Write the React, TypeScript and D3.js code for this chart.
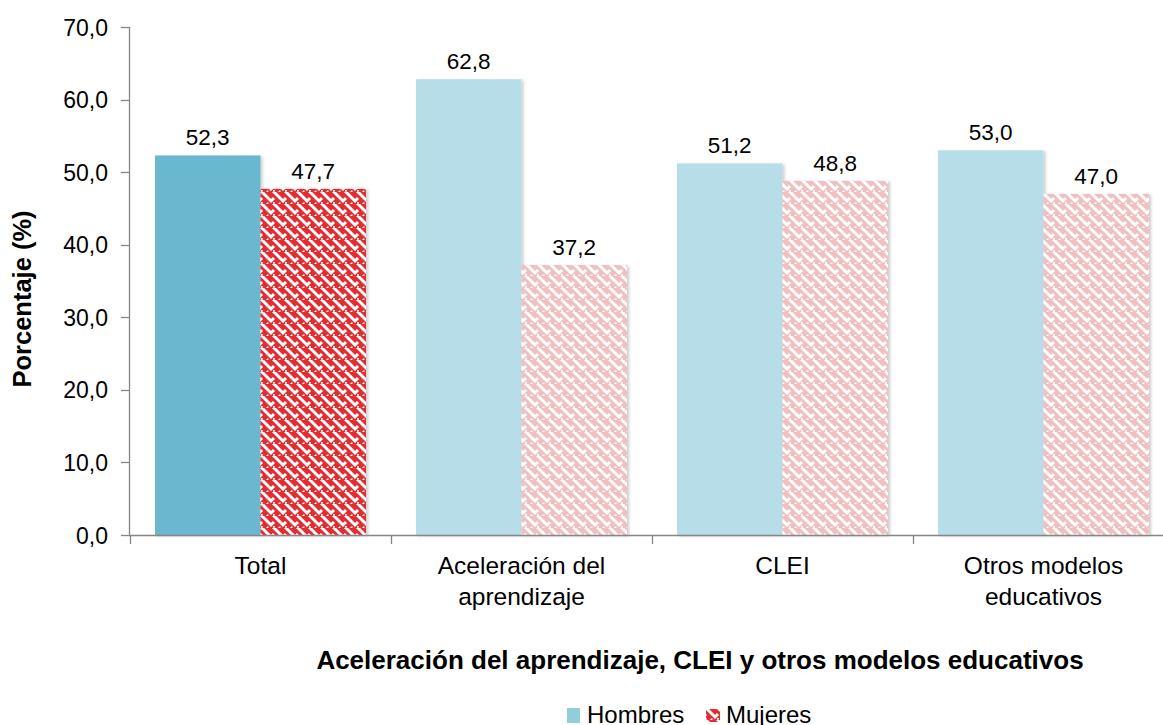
import React from "react";
import * as d3 from "d3";

const categories: string[][] = [
  ["Total"],
  ["Aceleración del", "aprendizaje"],
  ["CLEI"],
  ["Otros modelos", "educativos"],
];
const catKeys = ["Total", "Aceleración", "CLEI", "Otros"];
const series = ["Hombres", "Mujeres"];
const hombres = [52.3, 62.8, 51.2, 53.0];
const mujeres = [47.7, 37.2, 48.8, 47.0];
const yTicks = [0, 10, 20, 30, 40, 50, 60, 70];

const W = 1163;
const H = 725;
const FONT = "'Liberation Sans', Arial, sans-serif";
const fmt = (v: number) => v.toFixed(1).replace(".", ",");

export default function App() {
  const y = d3.scaleLinear().domain([0, 70]).range([535, 27]);
  const x = d3.scaleBand<string>().domain(catKeys).range([130, 1174]).paddingInner(0).paddingOuter(0);
  const x1 = d3.scaleBand<string>().domain(series).range([0, x.bandwidth()]).paddingInner(0).paddingOuter(0.237);
  const axisColor = "#868686";

  const hColor = (i: number) => (i === 0 ? "#6BB8CF" : "#B7DDE8");
  const mFill = (i: number) => (i === 0 ? "url(#weaveDark)" : "url(#weaveLight)");

  const weave = (id: string, color: string) => (
    <pattern id={id} width={12} height={12} patternUnits="userSpaceOnUse">
      <rect width={12} height={12} fill={color} />
      <path
        d="M1,3 L7,9 L10,6 M7,-3 L13,3 L16,0 M-5,9 L1,15 L4,12 M-5,-3 L1,3 M13,15 L16,12"
        stroke="#fff"
        strokeWidth={3}
        fill="none"
      />
      <rect x={9} y={10} width={1.8} height={1.8} fill="#fff" />
      <rect x={3} y={10.5} width={1.5} height={1.5} fill="#fff" />
    </pattern>
  );

  return (
    <svg width={W} height={H} style={{ position: "absolute", left: 0, top: 0, background: "#fff" }} fontFamily={FONT}>
      <defs>
        {weave("weaveDark", "#E02E31")}
        {weave("weaveLight", "#F0C0C0")}
        <filter id="shadow" x="-10%" y="-10%" width="130%" height="130%">
          <feDropShadow dx={2} dy={1} stdDeviation={1.5} floodColor="#000" floodOpacity={0.2} />
        </filter>
      </defs>

      {/* bars */}
      {catKeys.map((c, i) => {
        const x0 = x(c)!;
        const xh = x0 + x1("Hombres")!;
        const xm = x0 + x1("Mujeres")!;
        const bw = x1.bandwidth();
        return (
          <g key={c}>
            <rect x={xh} y={y(hombres[i])} width={bw} height={y(0) - y(hombres[i])} fill={hColor(i)} filter="url(#shadow)" />
            <rect x={xm} y={y(mujeres[i])} width={bw} height={y(0) - y(mujeres[i])} fill={mFill(i)} filter="url(#shadow)" />
            <text x={xh + bw / 2} y={y(hombres[i]) - 10} textAnchor="middle" fontSize={22.5} fill="#000">
              {fmt(hombres[i])}
            </text>
            <text x={xm + bw / 2} y={y(mujeres[i]) - 10} textAnchor="middle" fontSize={22.5} fill="#000">
              {fmt(mujeres[i])}
            </text>
          </g>
        );
      })}

      {/* y axis */}
      <line x1={129.5} x2={129.5} y1={y(70)} y2={y(0)} stroke={axisColor} strokeWidth={1.3} />
      {yTicks.map((t) => (
        <g key={t}>
          <line x1={121} x2={129.5} y1={Math.round(y(t)) + 0.5} y2={Math.round(y(t)) + 0.5} stroke={axisColor} strokeWidth={1.3} />
          <text x={108} y={y(t) + 8.5} textAnchor="end" fontSize={23} fill="#000">
            {fmt(t)}
          </text>
        </g>
      ))}

      {/* x axis */}
      <line x1={129} x2={W} y1={535.5} y2={535.5} stroke={axisColor} strokeWidth={1.3} />
      {catKeys.map((c) => (
        <line key={c} x1={Math.round(x(c)!) + 0.5} x2={Math.round(x(c)!) + 0.5} y1={535.5} y2={544} stroke={axisColor} strokeWidth={1.3} />
      ))}
      {catKeys.map((c, i) => (
        <text key={c} x={x(c)! + x.bandwidth() / 2} textAnchor="middle" fontSize={24.5} fill="#000">
          {categories[i].map((ln, j) => (
            <tspan key={j} x={x(c)! + x.bandwidth() / 2} y={574 + j * 31}>
              {ln}
            </tspan>
          ))}
        </text>
      ))}

      {/* axis titles */}
      <text transform="translate(31,299) rotate(-90)" textAnchor="middle" fontSize={25.5} fontWeight="bold" fill="#000">
        Porcentaje (%)
      </text>
      <text x={700} y={669} textAnchor="middle" fontSize={26} fontWeight="bold" fill="#000">
        Aceleración del aprendizaje, CLEI y otros modelos educativos
      </text>

      {/* legend */}
      <rect x={567} y={708} width={13} height={15} fill="#92CDDC" />
      <text x={587} y={723} fontSize={24} fill="#000">Hombres</text>
      <rect x={706} y={709} width={14} height={13} fill="url(#weaveDark)" />
      <text x={726} y={723} fontSize={24} fill="#000">Mujeres</text>
    </svg>
  );
}
